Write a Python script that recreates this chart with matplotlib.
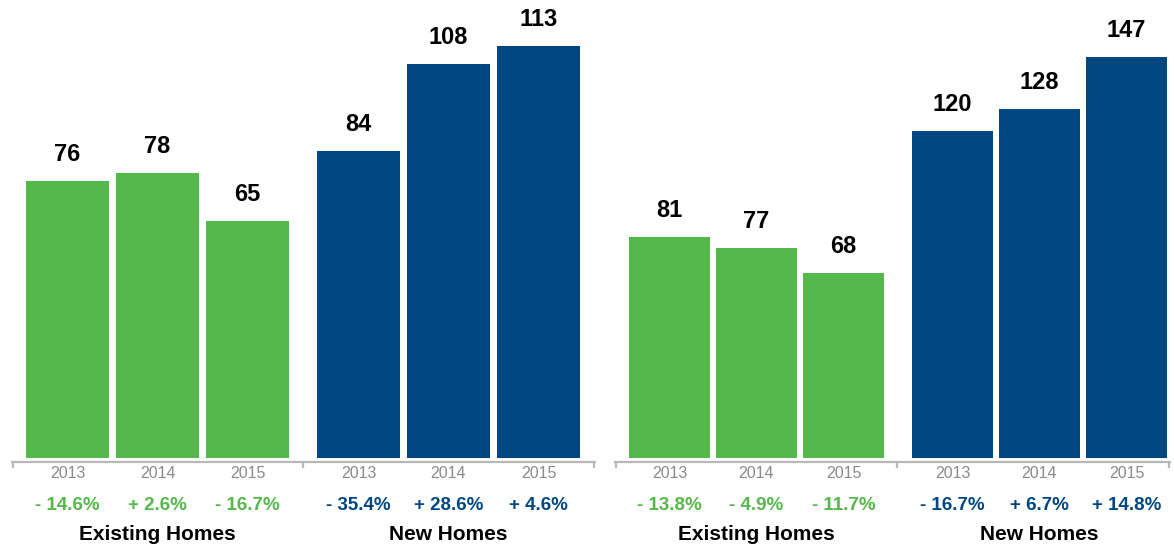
import matplotlib.pyplot as plt

# left panel values
left_existing = [76, 78, 65]
left_new = [84, 108, 113]
left_existing_pct = ['- 14.6%', '+ 2.6%', '- 16.7%']
left_new_pct = ['- 35.4%', '+ 28.6%', '+ 4.6%']

# right panel values
right_existing = [81, 77, 68]
right_new = [120, 128, 147]
right_existing_pct = ['- 13.8%', '- 4.9%', '- 11.7%']
right_new_pct = ['- 16.7%', '+ 6.7%', '+ 14.8%']

years = ['2013', '2014', '2015']
groups = ['Existing Homes', 'New Homes']

GREEN = '#55b84a'
BLUE = '#004781'
plt.rcParams['font.family'] = ['Liberation Sans', 'DejaVu Sans']

fig = plt.figure(figsize=(11.74, 5.48), dpi=100)
W, H = 1174, 548
spine_y = 462


def panel(x0, x1, width, offset, xlim, divider, ylim, existing, new, ex_pct, new_pct):
    ax = fig.add_axes([x0 / W, (H - spine_y) / H, (x1 - x0) / W, spine_y / H])
    xs_ex = [0, 1, 2]
    xs_new = [offset + i for i in range(3)]
    ax.bar(xs_ex, existing, width=width, color=GREEN)
    ax.bar(xs_new, new, width=width, color=BLUE)
    for xs, vals in ((xs_ex, existing), (xs_new, new)):
        for x, v in zip(xs, vals):
            ax.annotate(str(v), (x, v), xytext=(0, 14.4), textcoords='offset points',
                        ha='center', va='baseline', fontsize=17, fontweight='bold', color='black')
    for xs, pcts, col in ((xs_ex, ex_pct, GREEN), (xs_new, new_pct, BLUE)):
        for x, y, p in zip(xs, years, pcts):
            ax.annotate(y, (x, 0), xycoords=('data', 'axes fraction'), xytext=(0, -8.3),
                        textcoords='offset points', ha='center', va='center', fontsize=11.5, color='#8a8a8a')
            ax.annotate(p, (x, 0), xycoords=('data', 'axes fraction'), xytext=(0, -31.3),
                        textcoords='offset points', ha='center', va='center', fontsize=13.5,
                        fontweight='bold', color=col)
    for xs, g in zip((xs_ex, xs_new), groups):
        ax.annotate(g, (xs[1], 0), xycoords=('data', 'axes fraction'), xytext=(0, -52),
                    textcoords='offset points', ha='center', va='center', fontsize=15,
                    fontweight='bold', color='black')
    ax.set_xlim(*xlim)
    ax.set_ylim(*ylim)
    for s in ('top', 'right', 'left'):
        ax.spines[s].set_visible(False)
    ax.spines['bottom'].set_color('#b8b8b8')
    ax.spines['bottom'].set_linewidth(1.6)
    ax.set_yticks([])
    ax.set_xticks([xlim[0] + 0.01, divider, xlim[1] - 0.01])
    ax.set_xticklabels([])
    ax.tick_params(axis='x', direction='out', length=4.5, width=1.6, color='#b8b8b8')
    return ax


panel(12, 595, 0.922, 3.233, (-0.617, 5.861), 2.617, (-1.1, 125.5),
      left_existing, left_new, left_existing_pct, left_new_pct)
panel(615, 1170, 0.931, 3.253, (-0.626, 5.753), 2.615, (-1.48, 168.0),
      right_existing, right_new, right_existing_pct, right_new_pct)

fig.savefig('out.png', dpi=100)
